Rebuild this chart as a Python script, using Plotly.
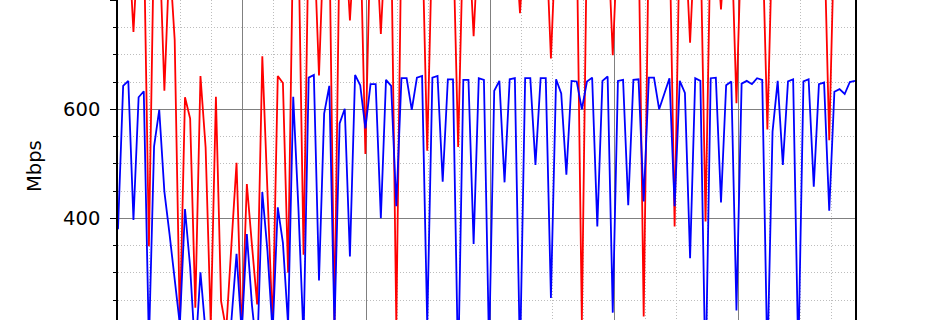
import plotly.graph_objects as go

# sample clock (seconds) for 144 samples
t = [round(i * 1.0387, 4) for i in range(144)]

blue_mbps = [
    380, 643, 652, 397, 622, 633, 170, 532, 599, 449,
    371, 292, 205, 417, 310, 150, 301, 190, 130, 110,
    140, 150, 212, 335, 190, 371, 240, 150, 448, 340,
    190, 420, 355, 205, 623, 420, 180, 658, 663, 286,
    592, 643, 200, 574, 601, 330, 663, 644, 565, 646,
    646, 400, 654, 643, 422, 657, 657, 599, 658, 661,
    205, 658, 661, 467, 655, 655, 120, 654, 654, 353,
    657, 654, 160, 634, 652, 466, 655, 657, 140, 657,
    657, 498, 657, 657, 254, 655, 629, 480, 652, 651,
    600, 651, 658, 385, 652, 660, 227, 652, 654, 424,
    654, 655, 431, 658, 658, 600, 628, 657, 422, 652,
    630, 327, 657, 652, 100, 657, 658, 429, 644, 651,
    231, 647, 652, 646, 657, 654, 135, 559, 652, 498,
    651, 655, 145, 651, 655, 458, 646, 649, 414, 632,
    637, 628, 650, 652,
]

red_mbps = [
    900, 930, 920, 742, 925, 930, 349, 930, 920, 634,
    880, 727, 205, 622, 583, 236, 661, 530, 205, 623,
    248, 195, 350, 502, 190, 463, 350, 242, 697, 465,
    200, 661, 648, 300, 930, 920, 333, 930, 920, 662,
    930, 925, 205, 920, 930, 763, 925, 930, 518, 925,
    930, 738, 930, 925, 205, 930, 925, 930, 920, 930,
    524, 925, 930, 925, 930, 925, 531, 930, 925, 734,
    930, 925, 930, 925, 930, 925, 930, 925, 776, 930,
    925, 930, 925, 930, 693, 925, 930, 925, 930, 925,
    210, 930, 925, 930, 925, 930, 699, 925, 930, 925,
    930, 925, 220, 930, 925, 930, 925, 930, 385, 930,
    925, 722, 930, 925, 394, 930, 925, 783, 930, 925,
    611, 930, 925, 930, 925, 930, 563, 930, 925, 930,
    925, 930, 925, 930, 925, 930, 925, 930, 543, 930,
    925, 930, 925, 930,
]

y_ticks = [400, 600, 800]

fig = go.Figure()
fig.add_trace(go.Scatter(x=t, y=red_mbps, mode="lines",
                         line=dict(color="#ff0000", width=1.8), showlegend=False))
fig.add_trace(go.Scatter(x=t, y=blue_mbps, mode="lines",
                         line=dict(color="#0000ff", width=1.8), showlegend=False))

fig.update_layout(
    width=950, height=320,
    margin=dict(l=118, r=95, t=0, b=0),
    paper_bgcolor="white", plot_bgcolor="white",
    font=dict(family="DejaVu Sans", size=19.5, color="black"),
    showlegend=False,
)

fig.update_xaxes(
    range=[0, 143 * 1.0387],
    tick0=0, dtick=25,
    showgrid=True, gridcolor="#808080", gridwidth=1.2,
    showline=False, zeroline=False,
    showticklabels=False, ticks="",
    minor=dict(dtick=6.25, showgrid=True, gridcolor="#bdbdbd",
               griddash="1px,2px", gridwidth=1, ticks=""),
)

fig.update_yaxes(
    range=[213.5, 800.4],
    tickvals=y_ticks, ticktext=[str(v) for v in y_ticks],
    showgrid=True, gridcolor="#808080", gridwidth=1.2,
    zeroline=False,
    showline=True, linecolor="black", linewidth=1.6, mirror=True,
    ticks="outside", ticklen=6, tickwidth=1.2, tickcolor="black",
    ticklabelstandoff=6,
    minor=dict(dtick=50, tick0=0, showgrid=True, gridcolor="#bdbdbd",
               griddash="1px,2px", gridwidth=1,
               ticks="outside", ticklen=3.5, tickcolor="black", tickwidth=1),
)

fig.add_annotation(
    text="Mbps", textangle=-90, showarrow=False,
    xref="paper", yref="paper",
    x=(34 - 118) / 737, y=1 - 166 / 320,
    xanchor="center", yanchor="middle",
    font=dict(family="DejaVu Sans", size=19.5, color="black"),
)

fig.write_html("out.html")
